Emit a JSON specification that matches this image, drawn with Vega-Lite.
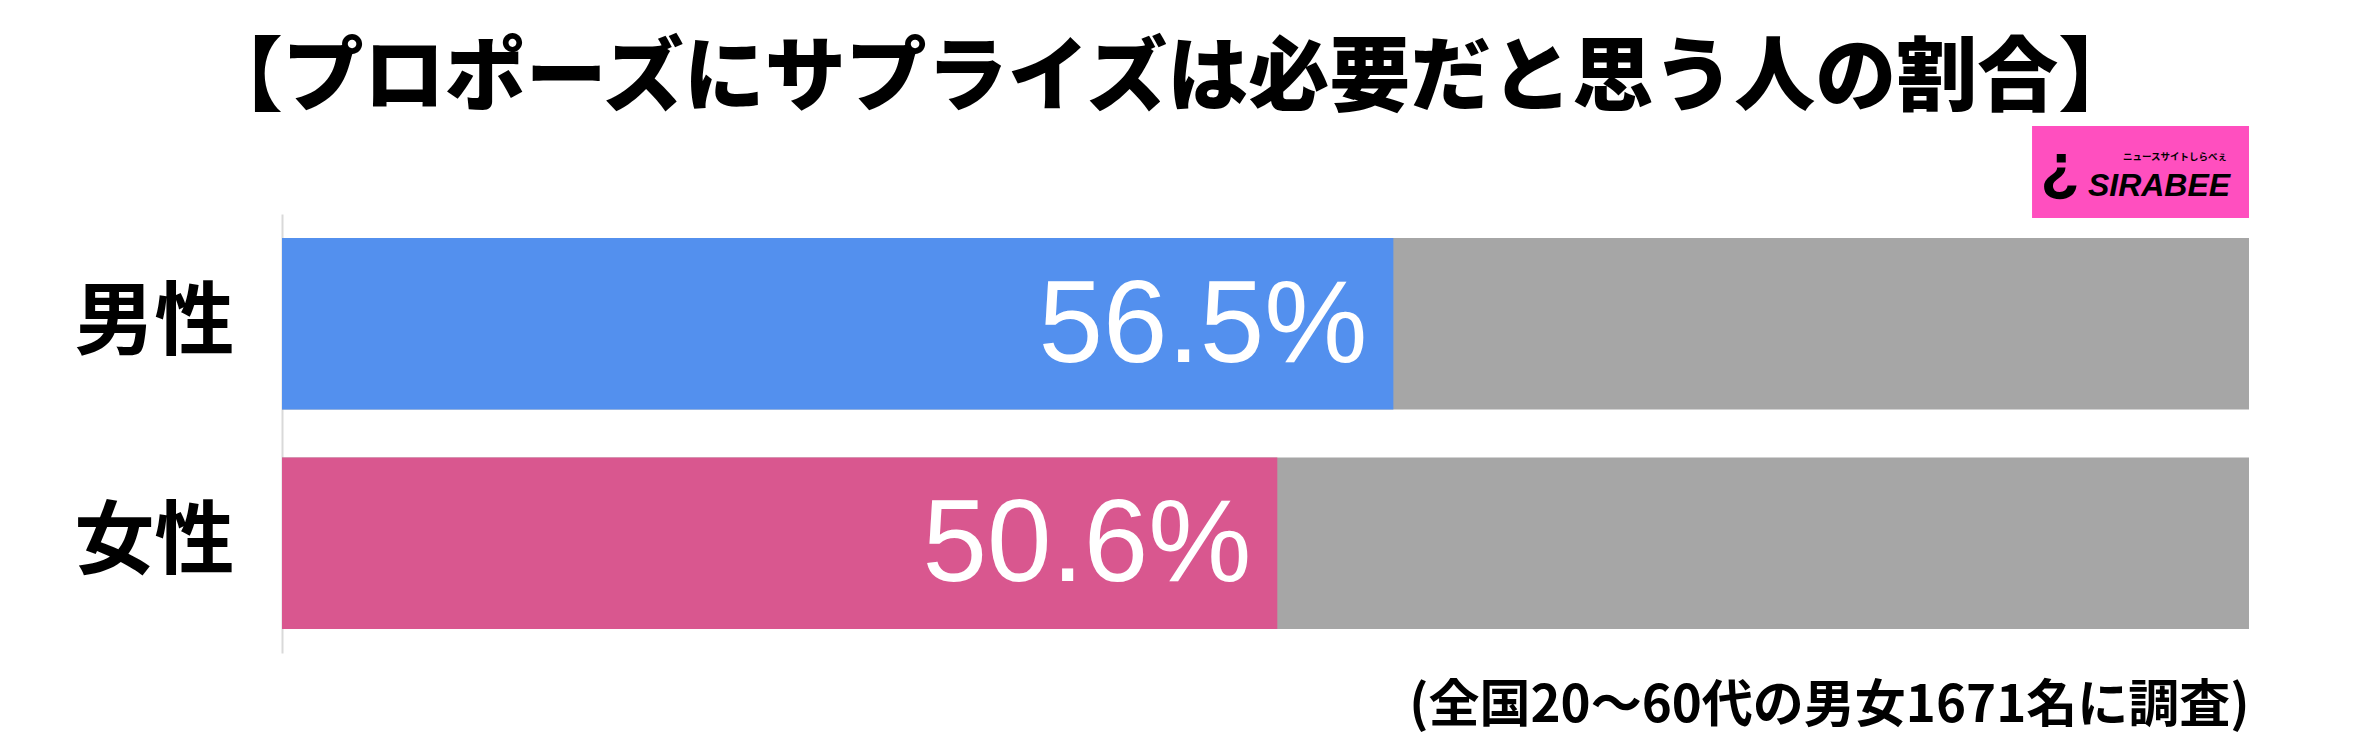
{
  "$schema": "https://vega.github.io/schema/vega-lite/v6.json",
  "autosize": {"type": "none"},
  "width": 1967,
  "height": 439,
  "padding": {"left": 282, "top": 214, "right": 117, "bottom": 85},
  "background": "white",
  "title": {
    "text": "【プロポーズにサプライズは必要だと思う人の割合】",
    "font": "Noto Sans CJK JP",
    "fontSize": 81,
    "fontWeight": 900,
    "color": "black",
    "anchor": "middle",
    "frame": "group",
    "dx": -95,
    "offset": 5
  },
  "data": {
    "values": [
      {"gender": "男性", "pct": 56.5, "label": "56.5%"},
      {"gender": "女性", "pct": 50.6, "label": "50.6%"}
    ]
  },
  "encoding": {
    "y": {
      "field": "gender",
      "type": "nominal",
      "sort": ["男性", "女性"],
      "scale": {"paddingInner": 0.219, "paddingOuter": 0.109},
      "axis": {
        "title": null,
        "ticks": false,
        "labelFont": "Noto Sans CJK JP",
        "labelFontSize": 80,
        "labelFontWeight": "bold",
        "labelColor": "black",
        "labelPadding": 48,
        "domainColor": "#d9d9d9",
        "domainWidth": 2
      }
    }
  },
  "layer": [
    {
      "mark": {"type": "bar", "color": "#a6a6a6"},
      "encoding": {
        "x": {
          "datum": 0,
          "type": "quantitative",
          "scale": {"domain": [0, 100], "nice": false},
          "axis": {
            "title": "(全国20〜60代の男女1671名に調査)",
            "titleAnchor": "end",
            "titleFont": "Noto Sans CJK JP",
            "titleFontSize": 51,
            "titleFontWeight": "bold",
            "titleColor": "black",
            "titlePadding": 28,
            "labels": false,
            "ticks": false,
            "domain": false,
            "grid": false
          }
        },
        "x2": {"datum": 100}
      }
    },
    {
      "mark": {"type": "bar"},
      "encoding": {
        "x": {"field": "pct", "type": "quantitative"},
        "color": {
          "field": "gender",
          "type": "nominal",
          "scale": {"domain": ["男性", "女性"], "range": ["#5390ee", "#d9578f"]},
          "legend": null
        }
      }
    },
    {
      "mark": {
        "type": "text",
        "align": "right",
        "baseline": "middle",
        "dx": -26,
        "dy": 3,
        "font": "Liberation Sans",
        "fontSize": 116,
        "color": "white"
      },
      "encoding": {
        "x": {"field": "pct", "type": "quantitative"},
        "text": {"field": "label"}
      }
    },
    {
      "data": {"values": [{"brand": "SIRABEE", "tagline": "ニュースサイトしらべぇ", "mark": "¿"}]},
      "layer": [
        {
          "mark": {"type": "rect", "color": "#ff4fbf"},
          "encoding": {
            "x": {"datum": 88.97, "type": "quantitative"},
            "x2": {"datum": 100},
            "y": {"value": -88},
            "y2": {"value": 4}
          }
        },
        {
          "mark": {"type": "text", "align": "left", "baseline": "alphabetic", "font": "Liberation Sans", "fontSize": 32, "fontWeight": "bold", "fontStyle": "italic", "color": "black"},
          "encoding": {
            "x": {"datum": 91.81, "type": "quantitative"},
            "y": {"value": -18},
            "text": {"field": "brand"}
          }
        },
        {
          "mark": {"type": "text", "align": "left", "baseline": "alphabetic", "font": "Noto Sans CJK JP", "fontSize": 9.5, "fontWeight": "bold", "color": "black"},
          "encoding": {
            "x": {"datum": 93.59, "type": "quantitative"},
            "y": {"value": -54},
            "text": {"field": "tagline"}
          }
        },
        {
          "mark": {"type": "text", "align": "left", "baseline": "alphabetic", "font": "Liberation Sans", "fontSize": 64, "fontWeight": "bold", "color": "black"},
          "encoding": {
            "x": {"datum": 89.4, "type": "quantitative"},
            "y": {"value": -26},
            "text": {"field": "mark"}
          }
        }
      ]
    }
  ],
  "config": {"view": {"stroke": null}}
}
